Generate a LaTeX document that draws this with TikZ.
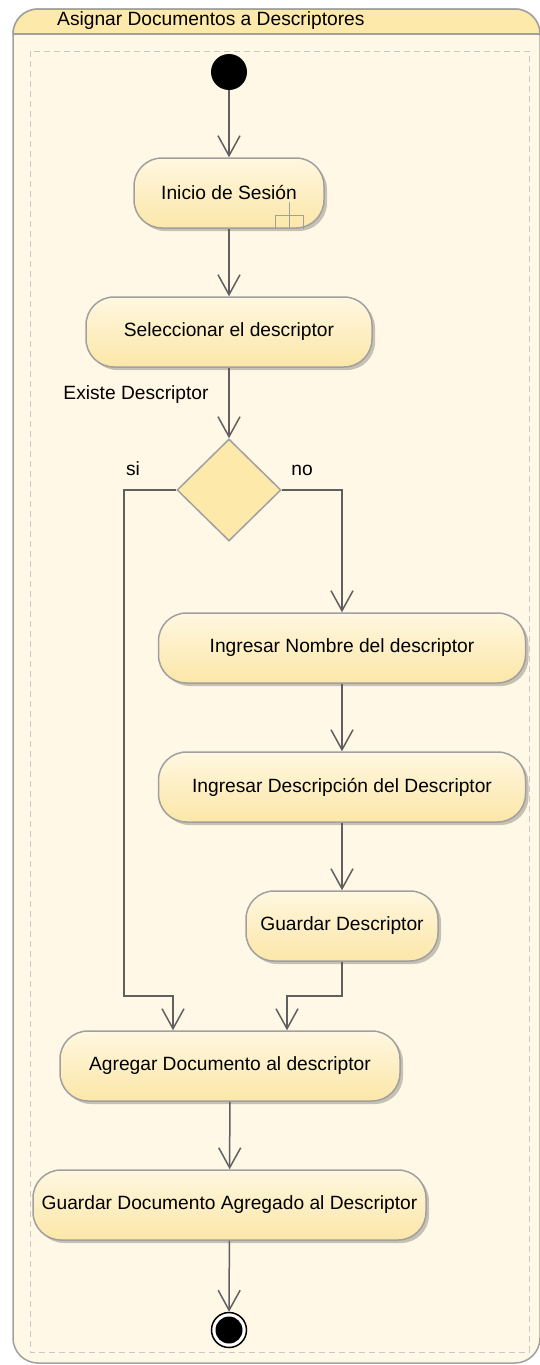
\documentclass[tikz,border=0pt]{standalone}
\usepackage{fontspec}
\setmainfont{Liberation Sans}
\usetikzlibrary{shapes.geometric,arrows.meta,shadows,calc}

\definecolor{framefill}{HTML}{FFF8E7}
\definecolor{headfill}{HTML}{FDE9AA}
\definecolor{bordergray}{HTML}{A0A0A0}
\definecolor{linegray}{HTML}{606060}
\definecolor{nodetop}{HTML}{FFF7E0}
\definecolor{nodebot}{HTML}{FCE7A8}
\definecolor{dashgray}{HTML}{C8C8C8}

\begin{document}
\begin{tikzpicture}[x=1pt,y=-1pt,
 txt/.style={font=\fontsize{19.2}{23}\selectfont, text=black},
 action/.style={txt, draw=bordergray, line width=1.5pt, rounded corners=28pt,
   top color=nodetop, bottom color=nodebot, inner sep=0pt, minimum height=70pt,
   drop shadow={shadow xshift=3pt, shadow yshift=-3pt, fill=black, opacity=0.22}},
 flow/.style={draw=linegray, line width=1.5pt,
   -{Straight Barb[length=20pt,width=22pt,line width=1.5pt]}},
]
\useasboundingbox (0,0) rectangle (540,1365);

% frame
\draw[bordergray, line width=1.5pt, fill=framefill, rounded corners=25pt] (13,9) rectangle (540,1363);
\begin{scope}
  \clip (0,0) rectangle (540,34);
  \draw[bordergray, line width=1.5pt, fill=headfill, rounded corners=25pt] (13,9) rectangle (540,1363);
\end{scope}
\draw[bordergray, line width=1.5pt] (13,34) -- (540,34);
\node[txt, anchor=west, inner sep=0pt] (title) at (57,21) {Asignar Documentos a Descriptores};
\draw[dashgray, line width=1pt, dash pattern=on 6pt off 4pt] (30,51) rectangle (529,1352);

% nodes
\node[circle, fill=black, minimum size=36pt, inner sep=0pt] (start) at (229,72) {};
\node[action, minimum width=190pt] (inicio) at (229,193) {Inicio de Sesión};
\node[action, minimum width=286pt] (selec) at (229,332) {Seleccionar el descriptor};
\node[diamond, draw=bordergray, line width=1.5pt, fill=headfill, minimum width=104pt, minimum height=102pt, inner sep=0pt] (dec) at (229,490) {};
\node[action, minimum width=367pt] (nombre) at (342,648) {Ingresar Nombre del descriptor};
\node[action, minimum width=367pt] (desc) at (342,787) {Ingresar Descripción del Descriptor};
\node[action, minimum width=192pt] (guardD) at (342,926) {Guardar Descriptor};
\node[action, minimum width=340pt] (agregar) at (230,1066) {Agregar Documento al descriptor};
\node[action, minimum width=393pt] (guardDoc) at (229.5,1205) {Guardar Documento Agregado al Descriptor};
\node[circle, draw=black, line width=1.5pt, fill=white, minimum size=35pt, inner sep=0pt] (end) at (229,1330) {};
\node[circle, fill=black, minimum size=27pt, inner sep=0pt] (endin) at (end.center) {};

% rake symbol
\draw[bordergray, line width=1.2pt] ($(inicio.south east)+(-49,0)$) -- ++(0,-13) -- ++(28,0) -- ++(0,13)
  ($(inicio.south east)+(-35,0)$) -- ++(0,-27);

% labels
\node[txt, inner sep=0pt] (lexiste) at (136,395) {Existe Descriptor};
\node[txt, inner sep=0pt] (lsi) at (133,469) {si};
\node[txt, inner sep=0pt] (lno) at (302,470) {no};

% connectors
\coordinate (siA) at (124,996);
\coordinate (siB) at (173,996);
\coordinate (noA) at (342,996);
\coordinate (noB) at (287,996);
\draw[flow] (start) -- (inicio);
\draw[flow] (inicio) -- (selec);
\draw[flow] (selec) -- (dec);
\draw[flow] (dec.west) -| (siA) -- (siB) -- (agregar.north -| siB);
\draw[flow] (dec.east) -| (nombre.north);
\draw[flow] (nombre) -- (desc);
\draw[flow] (desc) -- (guardD);
\draw[flow] (guardD.south) -- (noA) -- (noB) -- (agregar.north -| noB);
\draw[flow] (agregar) -- (guardDoc);
\draw[flow] (guardDoc) -- (end);
\end{tikzpicture}
\end{document}
